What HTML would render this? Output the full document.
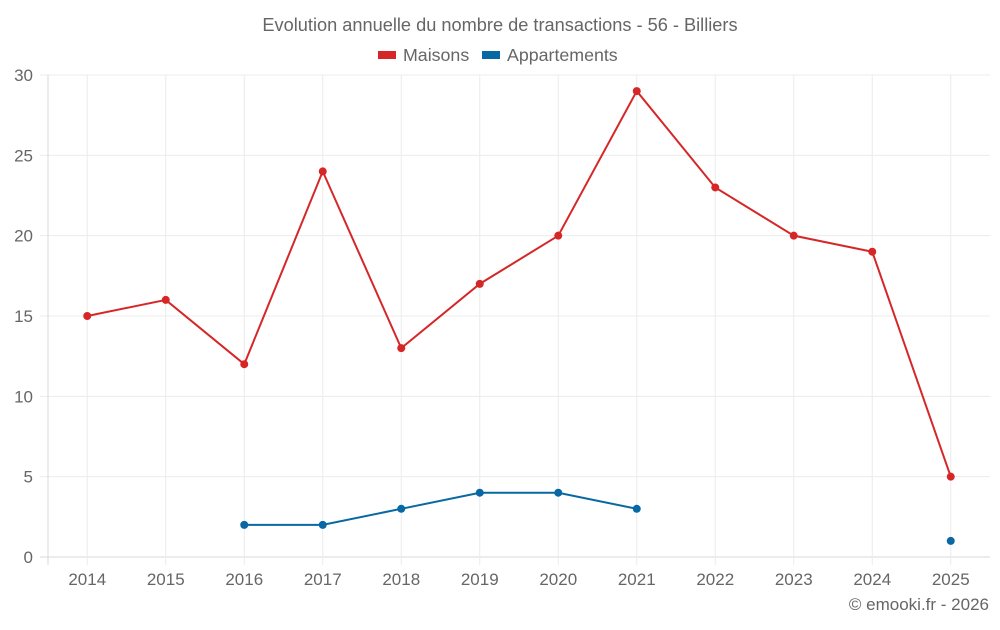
<!DOCTYPE html>
<html><head><meta charset="utf-8"><style>
body{margin:0;background:#fff;font-family:"Liberation Sans",sans-serif;}
svg text{font-family:"Liberation Sans",sans-serif;fill:#666;}
</style></head><body>
<svg id="chart" width="1000" height="625" viewBox="0 0 1000 625" xmlns="http://www.w3.org/2000/svg">
<text x="500" y="31" text-anchor="middle" font-size="18.2">Evolution annuelle du nombre de transactions - 56 - Billiers</text>
<g>
<g><rect x="378" y="51" width="18" height="8" fill="#d62728"/><text x="403" y="61" font-size="17.8">Maisons</text></g>
<g><rect x="482" y="51" width="18" height="8" fill="#0868a3"/><text x="507" y="61" font-size="17.8">Appartements</text></g>
</g>
<g id="grid"></g>
<g id="marks"></g>
<text x="989" y="610" text-anchor="end" font-size="17">© emooki.fr - 2026</text>
</svg>
<script>
const categories=["2014","2015","2016","2017","2018","2019","2020","2021","2022","2023","2024","2025"];
const maisons=[15,16,12,24,13,17,20,29,23,20,19,5];
const appartements=[null,null,2,2,3,4,4,3,null,null,null,1];
const yTicks=[0,5,10,15,20,25,30];
const L=48,R=990,T=75,B=557,yMax=30;
const step=(R-L)/categories.length;
const x=i=>L+step*(i+0.5);
const y=v=>B-(v/yMax)*(B-T);
const NS="http://www.w3.org/2000/svg";
function mk(tag,attrs,parent){const e=document.createElementNS(NS,tag);for(const k in attrs)e.setAttribute(k,attrs[k]);parent.appendChild(e);return e;}
const g=document.getElementById('grid'),m=document.getElementById('marks');
yTicks.forEach(t=>{
 const l=mk('line',{x1:40,x2:R,y1:y(t),y2:y(t),stroke:t===0?'#d8d8d8':'#ececec','stroke-width':1},g);
 
 
 const tx=mk('text',{x:33,y:y(t)+6,'text-anchor':'end','font-size':17},g);tx.textContent=t;
 
 
});
mk('line',{x1:L,x2:L,y1:T,y2:B+8,stroke:'#d8d8d8'},g);
categories.forEach((c,i)=>{
 const l=mk('line',{x1:x(i),x2:x(i),y1:T,y2:B+8,stroke:'#ececec'},g);
 
 
 const tx=mk('text',{x:x(i),y:585,'text-anchor':'middle','font-size':17},g);tx.textContent=c;
 
 
});
function series(vals,color,name){
 let d='',pen=false;
 vals.forEach((v,i)=>{if(v==null){pen=false;return;}d+=(pen?'L':'M')+x(i)+' '+y(v)+' ';pen=true;});
 const p=mk('path',{d:d,fill:'none',stroke:color,'stroke-width':2},m);
 
 
 vals.forEach((v,i)=>{if(v==null)return;
  const c=mk('circle',{cx:x(i),cy:y(v),r:4,fill:color},m);
  
  
 });
}
series(maisons,'#d62728','maisons');
series(appartements,'#0868a3','appartements');
</script>
</body></html>
